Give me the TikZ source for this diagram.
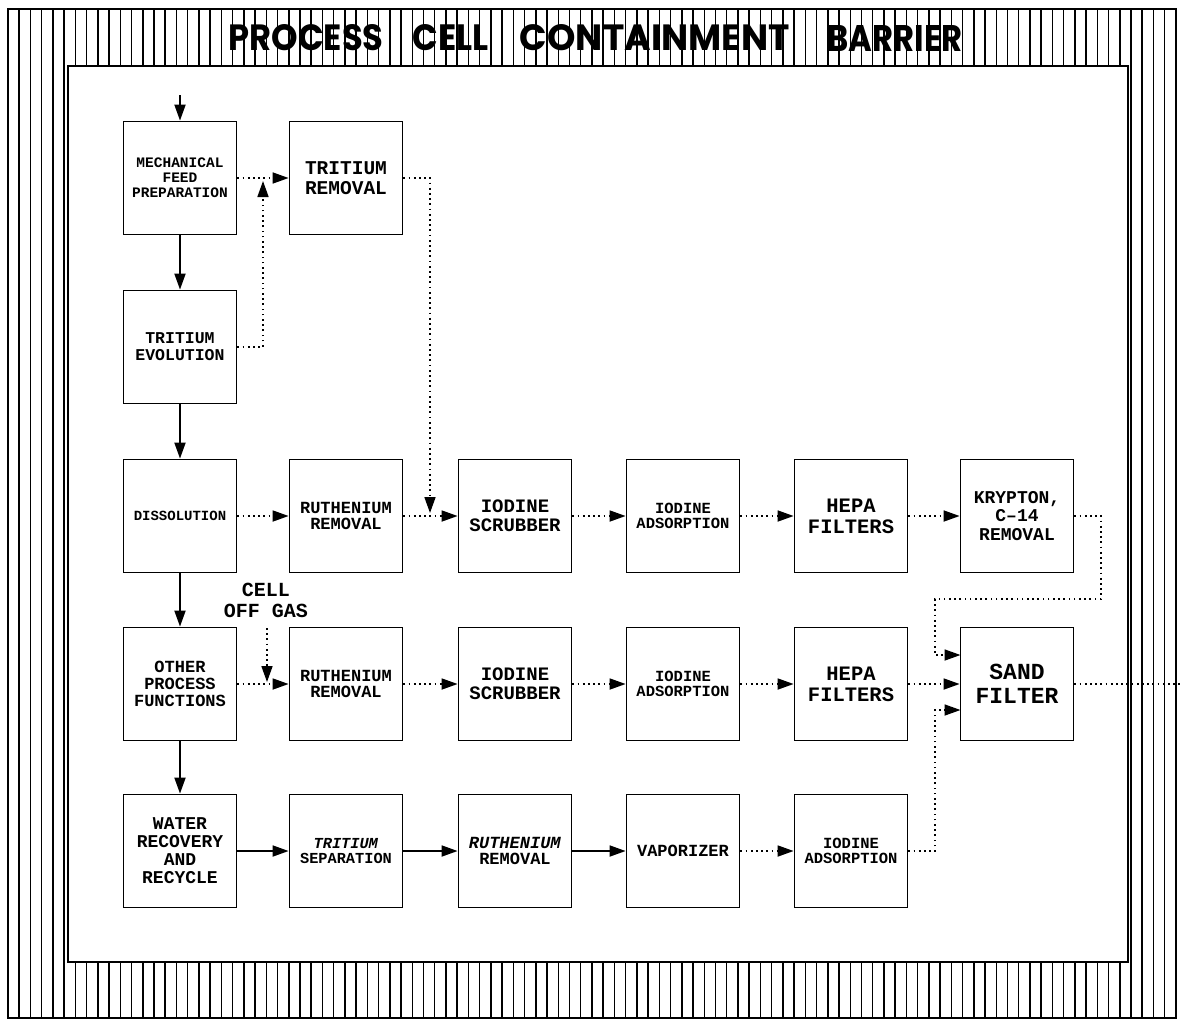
\documentclass[tikz,border=0pt]{standalone}
\usepackage{fontspec}
\usepackage{graphicx}
\setmainfont{Liberation Mono}
\newfontfamily\titlefont{Poppins}
\usetikzlibrary{arrows.meta}
\tikzset{
  proc/.style={draw, line width=1.8pt, minimum width=113pt, minimum height=113pt, inner sep=0pt, align=center},
  sz/.style 2 args={font=\bfseries\fontsize{#1pt}{#2pt}\selectfont},
  flow/.style={line width=1.8pt, -{Triangle[length=16pt,width=11pt]}},
  gas/.style={line width=1.7pt, dash pattern=on 1.7pt off 3.5pt, -{Triangle[length=16pt,width=11pt]}},
  gasline/.style={line width=1.7pt, dash pattern=on 1.7pt off 3.5pt},
  hatch/.style={line width=1.5pt},
  frame/.style={line width=1.8pt},
  ttl/.style={inner sep=0pt, anchor=center}
}
\begin{document}
\begin{tikzpicture}[x=1pt,y=-1pt]
\useasboundingbox (0,0) rectangle (1181,1021);
\fill[white] (0,0) rectangle (1181,1021);
% containment barrier hatching
\foreach \i in {0,...,104} {
  \draw[hatch] ({8+\i*11.23},9) -- ({8+\i*11.23},1018);
}
\fill[white] (68,66) rectangle (1128,962);
\draw[frame] (68,66) rectangle (1128,962);
\draw[frame] (8,9) rectangle (1176,1018);
% title
\node[ttl] (t1) at (306,38) {\resizebox{155pt}{26pt}{\titlefont\bfseries PROCESS}};
\node[ttl] (t2) at (451,38) {\resizebox{76pt}{26pt}{\titlefont\bfseries CELL}};
\node[ttl] (t3) at (655,38) {\resizebox{270pt}{26pt}{\titlefont\bfseries CONTAINMENT}};
\node[ttl] (t4) at (895,38) {\resizebox{135pt}{26pt}{\titlefont\bfseries BARRIER}};
% process boxes
\node[proc, sz={14.5}{15}] (mech) at (180,178) {MECHANICAL\\FEED\\PREPARATION};
\node[proc, sz={19.5}{19.5}] (trem) at (346,178) {TRITIUM\\REMOVAL};
\node[proc, sz={16.5}{17}] (tevo) at (180,347) {TRITIUM\\EVOLUTION};
\node[proc, sz={14}{14}] (diss) at (180,516) {DISSOLUTION};
\node[proc, sz={17}{17}] (other) at (180,684) {OTHER\\PROCESS\\FUNCTIONS};
\node[proc, sz={18}{18}] (water) at (180,851) {WATER\\RECOVERY\\AND\\RECYCLE};
\node[proc, sz={17}{16}] (ru1) at (346,516) {RUTHENIUM\\REMOVAL};
\node[proc, sz={19}{19}] (is1) at (515,516) {IODINE\\SCRUBBER};
\node[proc, sz={15.5}{15.5}] (ia1) at (683,516) {IODINE\\ADSORPTION};
\node[proc, sz={20.5}{21}] (hepa1) at (851,516) {HEPA\\FILTERS};
\node[proc, sz={18}{18.5}] (kr) at (1017,516) {KRYPTON,\\C–14\\REMOVAL};
\node[proc, sz={17}{16}] (ru2) at (346,684) {RUTHENIUM\\REMOVAL};
\node[proc, sz={19}{19}] (is2) at (515,684) {IODINE\\SCRUBBER};
\node[proc, sz={15.5}{15.5}] (ia2) at (683,684) {IODINE\\ADSORPTION};
\node[proc, sz={20.5}{21}] (hepa2) at (851,684) {HEPA\\FILTERS};
\node[proc, sz={23}{24}] (sand) at (1017,684) {SAND\\FILTER};
\node[proc, sz={15.3}{15.5}] (tsep) at (346,851) {\textit{TRITIUM}\\SEPARATION};
\node[proc, sz={17}{16.5}] (ru3) at (515,851) {\textit{RUTHENIUM}\\REMOVAL};
\node[proc, sz={17}{16}] (vap) at (683,851) {VAPORIZER};
\node[proc, sz={15.5}{15.5}] (ia3) at (851,851) {IODINE\\ADSORPTION};
\node[sz={20}{21}, align=center, inner sep=0pt] (cog) at (266,600) {CELL\\OFF GAS};
% coordinates
\coordinate (in) at (180,95);
\coordinate (j1) at (263,181);
\coordinate (j2) at (430,513);
\coordinate (k1) at (1101,599);
\coordinate (k2) at (935,599);
\coordinate (sk) at (960.5,655);
\coordinate (l1) at (935,710);
\coordinate (sl) at (960.5,710);
\coordinate (c1) at (267,628);
\coordinate (c2) at (267,682);
\coordinate (out) at (1181,684);
% solid process flow
\draw[flow] (in) -- (mech);
\draw[flow] (mech) -- (tevo);
\draw[flow] (tevo) -- (diss);
\draw[flow] (diss) -- (other);
\draw[flow] (other) -- (water);
\draw[flow] (water) -- (tsep);
\draw[flow] (tsep) -- (ru3);
\draw[flow] (ru3) -- (vap);
% off-gas flow
\draw[gas] (mech) -- (trem);
\draw[gas] (tevo.east) -| (j1);
\draw[gas] (trem.east) -| (j2);
\draw[gas] (diss) -- (ru1);
\draw[gas] (ru1) -- (is1);
\draw[gas] (is1) -- (ia1);
\draw[gas] (ia1) -- (hepa1);
\draw[gas] (hepa1) -- (kr);
\draw[gas] (kr.east) -| (k1) -- (k2) |- (sk);
\draw[gas] (c1) -- (c2);
\draw[gas] (other) -- (ru2);
\draw[gas] (ru2) -- (is2);
\draw[gas] (is2) -- (ia2);
\draw[gas] (ia2) -- (hepa2);
\draw[gas] (hepa2) -- (sand);
\draw[gas] (vap) -- (ia3);
\draw[gas] (ia3.east) -| (l1) -- (sl);
\draw[gasline] (sand) -- (out);
\end{tikzpicture}
\end{document}
